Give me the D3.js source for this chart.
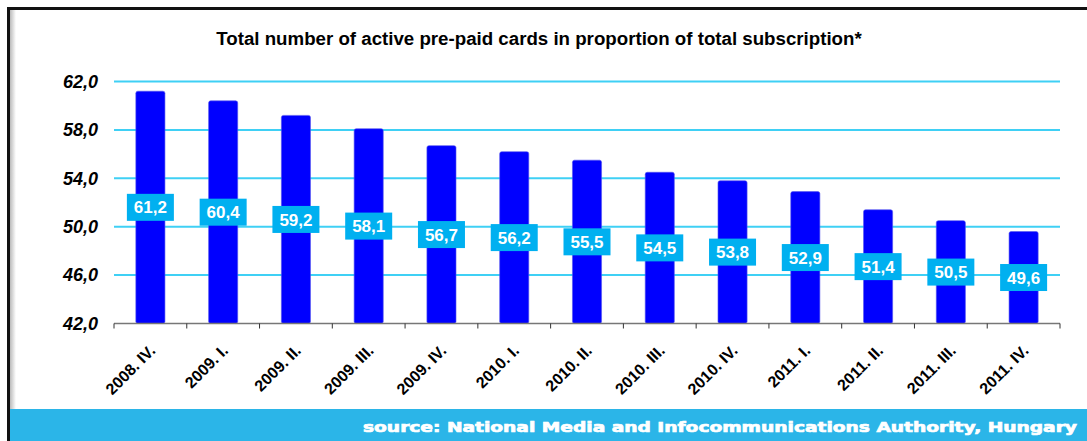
<!DOCTYPE html>
<html>
<head>
<meta charset="utf-8">
<script src="https://cdnjs.cloudflare.com/ajax/libs/d3/7.8.5/d3.min.js"></script>
<style>
  body { margin: 0; background: #fff; }
  svg { display: block; }
</style>
</head>
<body>
<div id="chart"></div>
<script>
// quarters and share of pre-paid cards (%)
var quarters = ["2008. IV.", "2009. I.", "2009. II.", "2009. III.", "2009. IV.",
  "2010. I.", "2010. II.", "2010. III.", "2010. IV.",
  "2011. I.", "2011. II.", "2011. III.", "2011. IV."];
var prepaid = [61.2, 60.4, 59.2, 58.1, 56.7, 56.2, 55.5, 54.5, 53.8, 52.9, 51.4, 50.5, 49.6];
var yTicks = [42, 46, 50, 54, 58, 62];

var svgWidth = 1087;
var svgHeight = 441;

var margin = { top: 81.5, right: 27, bottom: 117.5, left: 114 };
var width = svgWidth - margin.left - margin.right;
var height = svgHeight - margin.top - margin.bottom;

var svg = d3.select("#chart")
  .append("svg")
  .attr("width", svgWidth)
  .attr("height", svgHeight);

// frame with a soft inner shadow on the left
var defs = svg.append("defs");
var gl = defs.append("linearGradient").attr("id", "shadeL");
gl.append("stop").attr("offset", "0%").attr("stop-color", "#bbb");
gl.append("stop").attr("offset", "100%").attr("stop-color", "#fff");
svg.append("rect")
  .attr("x", 10).attr("y", 10).attr("width", 6).attr("height", svgHeight)
  .attr("fill", "url(#shadeL)");
svg.append("path")
  .attr("d", `M8.5,${svgHeight} V8.5 H${svgWidth}`)
  .attr("fill", "none")
  .attr("stroke", "#111")
  .attr("stroke-width", 3);

// source band
svg.append("rect")
  .attr("x", 10).attr("y", 409)
  .attr("width", svgWidth - 10).attr("height", svgHeight - 409)
  .attr("fill", "#2bb5e8");
svg.append("text")
  .attr("x", 1077).attr("y", 432)
  .attr("text-anchor", "end")
  .attr("textLength", 714)
  .attr("lengthAdjust", "spacingAndGlyphs")
  .style("font-family", "'DejaVu Sans', sans-serif")
  .style("font-weight", "bold")
  .style("font-size", "14px")
  .attr("fill", "#fff")
  .attr("stroke", "#fff")
  .attr("stroke-width", 0.7)
  .text("source: National Media and Infocommunications Authority, Hungary");

// title
svg.append("text")
  .attr("x", 539).attr("y", 45)
  .attr("text-anchor", "middle")
  .style("font-family", "'Liberation Sans', Arial, sans-serif")
  .style("font-weight", "bold")
  .style("font-size", "18.7px")
  .attr("fill", "#000")
  .text("Total number of active pre-paid cards in proportion of total subscription*");

var chartGroup = svg.append("g")
  .attr("transform", `translate(${margin.left}, ${margin.top})`);

var xBandScale = d3.scaleBand()
  .domain(quarters)
  .range([0, width])
  .paddingInner(0.6)
  .paddingOuter(0.3);

var yLinearScale = d3.scaleLinear()
  .domain([42, 62])
  .range([height, 0]);

// gridlines
chartGroup.append("g")
  .selectAll("line")
  .data(yTicks.slice(1))
  .enter()
  .append("line")
  .attr("x1", 0)
  .attr("x2", width)
  .attr("y1", d => yLinearScale(d))
  .attr("y2", d => yLinearScale(d))
  .attr("stroke", "#3fd0f5")
  .attr("stroke-width", 2);

// y labels
chartGroup.append("g")
  .selectAll("text")
  .data(yTicks)
  .enter()
  .append("text")
  .attr("x", -16)
  .attr("y", d => yLinearScale(d))
  .attr("dy", "0.35em")
  .attr("text-anchor", "end")
  .style("font-family", "'Liberation Sans', Arial, sans-serif")
  .style("font-weight", "bold")
  .style("font-style", "italic")
  .style("font-size", "18px")
  .text(d => d3.format(".1f")(d).replace(".", ","));

// bars
chartGroup.append("g")
  .selectAll("rect")
  .data(prepaid)
  .enter()
  .append("rect")
  .attr("x", (d, i) => xBandScale(quarters[i]))
  .attr("y", d => yLinearScale(d))
  .attr("width", xBandScale.bandwidth())
  .attr("height", d => height - yLinearScale(d))
  .attr("rx", 2)
  .attr("fill", "#0000ff")
  .attr("stroke", "#5555ee")
  .attr("stroke-width", 0.6);

// x axis line + ticks
var bottomAxis = chartGroup.append("g")
  .attr("transform", `translate(0, ${height})`);
bottomAxis.append("line")
  .attr("x1", 0).attr("x2", width)
  .attr("stroke", "#777").attr("stroke-width", 1.5);
bottomAxis.selectAll(".tick")
  .data(d3.range(quarters.length + 1))
  .enter()
  .append("line")
  .attr("x1", d => d * width / quarters.length)
  .attr("x2", d => d * width / quarters.length)
  .attr("y1", 0).attr("y2", 5)
  .attr("stroke", "#333");

// x labels rotated
bottomAxis.selectAll("text")
  .data(quarters)
  .enter()
  .append("text")
  .attr("transform", d => `translate(${xBandScale(d) + xBandScale.bandwidth() / 2 + 6}, 28) rotate(-45)`)
  .attr("text-anchor", "end")
  .style("font-family", "'Liberation Sans', Arial, sans-serif")
  .style("font-weight", "bold")
  .style("font-size", "16px")
  .text(d => d);

// value labels in the middle of each bar
var labels = chartGroup.append("g")
  .selectAll("g")
  .data(prepaid)
  .enter()
  .append("g")
  .attr("transform", (d, i) => `translate(${xBandScale(quarters[i]) + xBandScale.bandwidth() / 2}, ${(yLinearScale(d) + height) / 2})`);
labels.append("rect")
  .attr("x", -23.5).attr("y", -13.5)
  .attr("width", 47).attr("height", 27)
  .attr("fill", "#00b0f0");
labels.append("text")
  .attr("text-anchor", "middle")
  .attr("dy", "0.36em")
  .attr("fill", "#fff")
  .style("font-family", "'Liberation Sans', Arial, sans-serif")
  .style("font-weight", "bold")
  .style("font-size", "17px")
  .text(d => d3.format(".1f")(d).replace(".", ","));
</script>
</body>
</html>
